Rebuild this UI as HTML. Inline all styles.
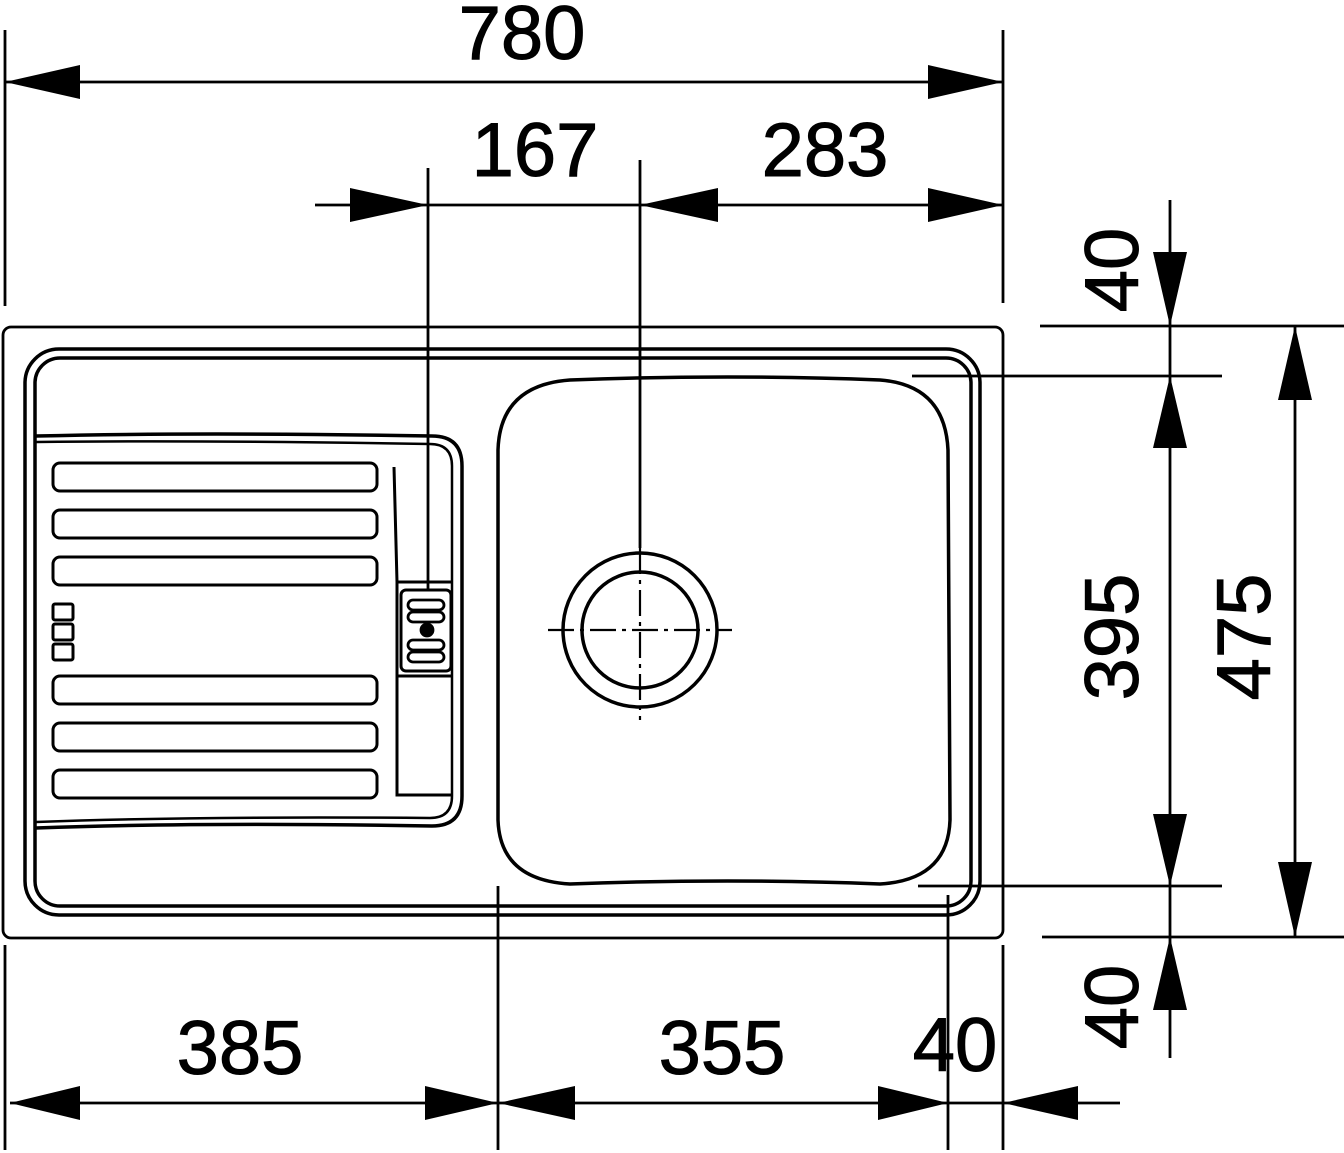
<!DOCTYPE html>
<html><head><meta charset="utf-8"><style>html,body{margin:0;padding:0;background:#fff}svg{display:block}</style></head>
<body>
<svg width="1344" height="1153" viewBox="0 0 1344 1153" xmlns="http://www.w3.org/2000/svg">
<g stroke="#000" fill="none" stroke-width="2.8">
<line x1="5" y1="30" x2="5" y2="306"/>
<line x1="1003" y1="30" x2="1003" y2="303"/>
<line x1="5" y1="82" x2="1003" y2="82"/>
<line x1="315" y1="205" x2="1003" y2="205"/>
<line x1="428" y1="168" x2="428" y2="590"/>
<line x1="640" y1="160" x2="640" y2="548"/>
<line x1="1040" y1="326" x2="1344" y2="326"/>
<line x1="912" y1="376" x2="1222" y2="376"/>
<line x1="918" y1="886" x2="1222" y2="886"/>
<line x1="1042" y1="937" x2="1344" y2="937"/>
<line x1="1170" y1="200" x2="1170" y2="1058"/>
<line x1="1295" y1="326" x2="1295" y2="937"/>
<line x1="5" y1="945" x2="5" y2="1150"/>
<line x1="498" y1="886" x2="498" y2="1150"/>
<line x1="948" y1="895" x2="948" y2="1150"/>
<line x1="1003" y1="945" x2="1003" y2="1150"/>
<line x1="10" y1="1103" x2="1120" y2="1103"/>
<rect x="3" y="327" width="1000" height="611" rx="8"/>
<rect x="25" y="349" width="955" height="566" rx="34" stroke-width="3.5"/>
<rect x="35" y="358" width="936" height="548" rx="25" stroke-width="3.5"/>
<path d="M36 436 Q200 432 432 436 Q462 436 462 466 L462 796 Q462 826 432 826 Q200 822 36 828" stroke-width="3.5"/>
<path d="M36 442 Q200 440 430 444 Q452 444 452 466 L452 796 Q452 818 430 818 Q200 816 36 822" stroke-width="2.5"/>
<path d="M394 467 L397 582 L452 582 M397 582 L397 795 L452 795 M397 676 L452 676" stroke-width="3"/>
<rect x="401" y="590" width="50" height="81" rx="5" stroke-width="3"/>
<rect x="408" y="600" width="36" height="10" rx="5"/>
<rect x="408" y="612" width="36" height="10" rx="5"/>
<rect x="408" y="640" width="36" height="10" rx="5"/>
<rect x="408" y="652" width="36" height="10" rx="5"/>
<circle cx="427" cy="630" r="6" fill="#000"/>
<g stroke-width="3">
<rect x="53" y="463" width="324" height="28" rx="7"/>
<rect x="53" y="510" width="324" height="28" rx="7"/>
<rect x="53" y="557" width="324" height="28" rx="7"/>
<rect x="53" y="676" width="324" height="28" rx="7"/>
<rect x="53" y="723" width="324" height="28" rx="7"/>
<rect x="53" y="770" width="324" height="28" rx="7"/>
<rect x="53" y="604" width="20" height="16" rx="2"/>
<rect x="53" y="624" width="20" height="16" rx="2"/>
<rect x="53" y="644" width="20" height="16" rx="2"/>
</g>
<path d="M570 380 Q730 374 880 380 Q945 385 948 450 L950 820 Q948 880 880 884 Q730 878 570 884 Q500 880 498 820 L498 450 Q500 385 570 380 Z" stroke-width="3.5"/>
<circle cx="640" cy="630" r="77" stroke-width="3.5"/>
<circle cx="640" cy="630" r="58" stroke-width="3.5"/>
<path d="M548 630 L732 630 M640 548 L640 720" stroke-width="2.2" stroke-dasharray="26 6 4 6"/>
</g>
<g fill="#000">
<polygon points="5,82 80,65 80,99"/>
<polygon points="1003,82 928,65 928,99"/>
<polygon points="428,205 350,188 350,222"/>
<polygon points="640,205 718,188 718,222"/>
<polygon points="1003,205 928,188 928,222"/>
<polygon points="1170,326 1153,252 1187,252"/>
<polygon points="1170,376 1153,448 1187,448"/>
<polygon points="1170,886 1153,814 1187,814"/>
<polygon points="1170,937 1153,1010 1187,1010"/>
<polygon points="1295,326 1278,400 1312,400"/>
<polygon points="1295,937 1278,862 1312,862"/>
<polygon points="10,1103 80,1086 80,1120"/>
<polygon points="498,1103 425,1086 425,1120"/>
<polygon points="498,1103 575,1086 575,1120"/>
<polygon points="948,1103 878,1086 878,1120"/>
<polygon points="1003,1103 1078,1086 1078,1120"/>
</g>
<g font-family="Liberation Sans, sans-serif" font-size="76" text-anchor="middle" fill="#000" stroke="#000" stroke-width="1">
<text x="522" y="59">780</text>
<text x="535" y="176">167</text>
<text x="825" y="176">283</text>
<text x="240" y="1074">385</text>
<text x="722" y="1074">355</text>
<text x="955" y="1071">40</text>
<text transform="translate(1138,270) rotate(-90)">40</text>
<text transform="translate(1138,637) rotate(-90)">395</text>
<text transform="translate(1270,637) rotate(-90)">475</text>
<text transform="translate(1138,1007) rotate(-90)">40</text>
</g>
</svg>
</body></html>
